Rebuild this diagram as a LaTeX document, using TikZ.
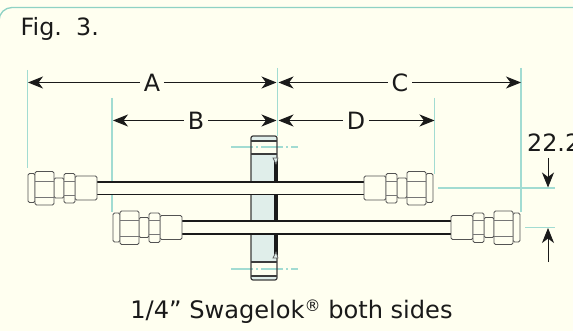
\documentclass[tikz,border=0pt]{standalone}
\usepackage{fontspec}
\setmainfont{DejaVu Sans}
\usetikzlibrary{arrows.meta}
\definecolor{paper}{HTML}{FFFFF0}
\definecolor{guide}{HTML}{A2DCD2}
\definecolor{frame}{HTML}{8FD2C4}
\definecolor{flange}{HTML}{E0EEEA}
\definecolor{ink}{HTML}{1A1A1A}
\newcommand{\regmark}{\raisebox{6.5pt}{\fontsize{16}{16}\selectfont ®}}
\tikzset{
  guide line/.style={guide,line width=1.1pt},
  dim line/.style={ink,line width=.9pt,>={Stealth[length=15pt,width=12pt,inset=4.5pt]}},
  big text/.style={font=\fontsize{23.8}{26}\selectfont,text=ink,inner sep=0pt},
  dim label/.style={big text,fill=paper,inner sep=3.5pt},
  tube/.style={ink,line width=1.2pt},
  part/.style={draw=ink!75,line width=.9pt,fill=paper,rounded corners=1.5pt},
  part line/.style={draw=ink!60,line width=.7pt},
  fitting/.pic={
    \draw[part] (0,-14.5) rectangle (7,14.5);
    \draw[part] (26,-10) rectangle (36,10);
    \draw[part] (7,-16.5) rectangle (26,17);
    \draw[part line] (7,-7) -- (26,-7) (7,9) -- (26,9);
    \draw[part] (47,-12) rectangle (69,12);
    \draw[part] (36,-14.5) rectangle (47,15);
    \draw[part line] (36,-7) -- (47,-7) (36,7) -- (47,7);
  }
}
\begin{document}
\begin{tikzpicture}[x=1pt,y=-1pt]
\useasboundingbox (0,0) rectangle (573,331);
\clip (0,0) rectangle (573,331);
\fill[paper] (0,0) rectangle (573,331);

% frame
\draw[frame,line width=1.3pt,rounded corners=13pt] (-1,40) -- (-1,7.5) -- (574,7.5);
\node[big text,anchor=base west] (title) at (20.5,36) {Fig.\hspace{.6em}3.};

% guide lines
\draw[guide line] (27.5,70) -- (27.5,168);
\draw[guide line] (112,98) -- (112,212);
\draw[guide line] (277.5,68) -- (277.5,136);
\draw[guide line] (434.5,98) -- (434.5,174);
\draw[guide line] (521,68) -- (521,212);
\draw[guide line] (438,188) -- (555,188);
\draw[guide line] (525,227.5) -- (555,227.5);

% flange
\fill[flange] (251,136) rectangle (277,280);
\fill[paper] (251,141) rectangle (277,154);
\fill[paper] (251,262) rectangle (277,276);
\draw[guide line,dash pattern=on 22pt off 3pt on 2pt off 3pt] (231,147) -- (298,147);
\draw[guide line,dash pattern=on 22pt off 3pt on 2pt off 3pt] (231,269) -- (298,269);
\draw[ink!85,line width=1.2pt,rounded corners=2pt] (251,136) rectangle (277,280);
\draw[ink!85,line width=1.2pt] (251,141) -- (277,141) (251,154) -- (277,154) (251,262) -- (277,262) (251,276) -- (277,276);
\fill[ink] (274,160) rectangle (278,257);
\draw[ink!70,line width=.7pt,fill=flange] (273,158) -- (278,158) -- (276,164) -- cycle;
\draw[ink!70,line width=.7pt,fill=flange] (273,258) -- (278,258) -- (276,252) -- cycle;

% tubes
\fill[paper] (97,182) rectangle (364,194.5);
\fill[paper] (182,221) rectangle (451,234);
\draw[tube] (97,182) -- (364,182) (97,194.5) -- (364,194.5);
\draw[tube] (182,221) -- (451,221) (182,234) -- (451,234);

% fittings
\pic at (28,188) {fitting};
\pic at (113,227.5) {fitting};
\pic[xscale=-1] at (433,188) {fitting};
\pic[xscale=-1] at (520,227.5) {fitting};

% dimensions
\coordinate (a left) at (28,82.5);
\coordinate (a right) at (276.5,82.5);
\coordinate (c left) at (278.5,82.5);
\coordinate (c right) at (521,82.5);
\coordinate (b left) at (113,120.5);
\coordinate (b right) at (276.5,120.5);
\coordinate (d left) at (278.5,120.5);
\coordinate (d right) at (434.5,120.5);
\node[dim label] (lab a) at (152,82.5) {A};
\node[dim label] (lab c) at (400,82.5) {C};
\node[dim label] (lab b) at (196,120.5) {B};
\node[dim label] (lab d) at (356,120.5) {D};
\draw[dim line,<-] (a left) -- (lab a);
\draw[dim line,->] (lab a) -- (a right);
\draw[dim line,<-] (c left) -- (lab c);
\draw[dim line,->] (lab c) -- (c right);
\draw[dim line,<-] (b left) -- (lab b);
\draw[dim line,->] (lab b) -- (b right);
\draw[dim line,<-] (d left) -- (lab d);
\draw[dim line,->] (lab d) -- (d right);

\node[big text,anchor=base west] (gap) at (527,152) {22.2};
\coordinate (gap top start) at (548,158);
\coordinate (gap top end) at (548,187.5);
\coordinate (gap low start) at (548,262);
\coordinate (gap low end) at (548,228);
\draw[dim line,->] (gap top start) -- (gap top end);
\draw[dim line,->] (gap low start) -- (gap low end);

\node[big text,anchor=base,font=\fontsize{24.1}{26}\selectfont] (caption) at (291.5,318) {1/4” Swagelok\regmark{} both sides};
\end{tikzpicture}
\end{document}
